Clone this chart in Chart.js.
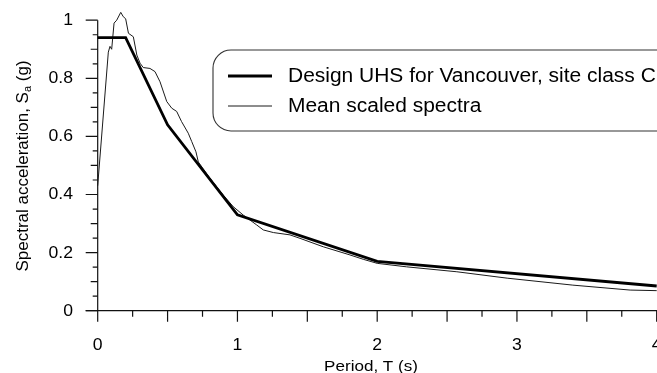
<!DOCTYPE html>
<html>
<head>
<meta charset="utf-8">
<script src="https://cdn.jsdelivr.net/npm/chart.js@4.4.0/dist/chart.umd.min.js"></script>
<style>
  html, body { margin: 0; padding: 0; background: #fff; }
</style>
</head>
<body>
<canvas id="chartContainer" width="657" height="373"></canvas>
<script>
// Design UHS, Vancouver site class C: period (s) / Sa (g)
let uhsPeriods = [0, 0.2, 0.5, 1.0, 2.0, 4.0];
let uhsValues = [0.94, 0.94, 0.64, 0.33, 0.17, 0.085];

// mean of the scaled record spectra
let meanPeriods = [0, 0.076, 0.088, 0.1, 0.117, 0.136, 0.165, 0.183, 0.2, 0.22,
  0.255, 0.28, 0.303, 0.326, 0.374, 0.41, 0.446, 0.494, 0.53, 0.565,
  0.6, 0.648, 0.673, 0.703, 0.72, 0.8, 0.9, 0.97, 1.042, 1.138,
  1.185, 1.257, 1.376, 1.448, 1.614, 1.805, 1.9, 2.0, 2.21, 2.57,
  2.93, 3.4, 3.81, 4.0];
let meanValues = [0.43, 0.89, 0.91, 0.9, 0.99, 1.0, 1.027, 1.012, 1.005, 0.955,
  0.943, 0.88, 0.852, 0.837, 0.834, 0.823, 0.788, 0.72, 0.697, 0.686,
  0.651, 0.611, 0.582, 0.547, 0.512, 0.458, 0.397, 0.358, 0.329, 0.295,
  0.278, 0.269, 0.261, 0.249, 0.22, 0.192, 0.177, 0.163, 0.151, 0.134,
  0.112, 0.088, 0.071, 0.069];

let xTickValues = [0, 1, 2, 3, 4];
let xTickLabels = ['0', '1', '2', '3', '4'];
let yTickValues = [0, 0.2, 0.4, 0.6, 0.8, 1];
let yTickLabels = ['0', '0.2', '0.4', '0.6', '0.8', '1'];

let seriesLabels = ['Design UHS for Vancouver, site class C', 'Mean scaled spectra'];

function toPoints(xs, ys) {
  let pts = [];
  for (let i = 0; i < xs.length; i++) {
    pts.push({ x: xs[i], y: ys[i] });
  }
  return pts;
}

const FONT = '"Liberation Sans", Arial, Helvetica, sans-serif';

// draws text squeezed/stretched horizontally
function wideText(ctx, text, x, y, sx, align) {
  let w = ctx.measureText(text).width * sx;
  let left = x;
  if (align === 'center') left = x - w / 2;
  if (align === 'right') left = x - w;
  ctx.save();
  ctx.translate(left, y);
  ctx.scale(sx, 1);
  ctx.textAlign = 'left';
  ctx.fillText(text, 0, 0);
  ctx.restore();
}

// axes, ticks and titles
const axesPlugin = {
  id: 'axesPlugin',
  beforeDatasetsDraw(chart) {
    let ctx = chart.ctx;
    let xs = chart.scales.x;
    let ys = chart.scales.y;
    let x0 = xs.getPixelForValue(0);
    let y0 = ys.getPixelForValue(0);

    ctx.save();
    ctx.strokeStyle = '#111';
    ctx.lineWidth = 1.2;

    // axis lines
    ctx.beginPath();
    ctx.moveTo(x0, ys.getPixelForValue(1));
    ctx.lineTo(x0, y0);
    ctx.moveTo(x0 - 12, y0);
    ctx.lineTo(xs.getPixelForValue(4) + 1, y0);
    ctx.stroke();

    // y ticks every 0.05
    ctx.beginPath();
    for (let i = 0; i <= 20; i++) {
      let py = ys.getPixelForValue(i * 0.05);
      let len = i % 4 === 0 ? 12 : (i % 2 === 0 ? 7 : 5);
      ctx.moveTo(x0 - len, py);
      ctx.lineTo(x0, py);
    }
    // x ticks every 0.25
    for (let i = 0; i <= 16; i++) {
      let px = xs.getPixelForValue(i * 0.25);
      let len = i % 2 === 0 ? 11 : 6;
      ctx.moveTo(px, y0);
      ctx.lineTo(px, y0 + len);
    }
    ctx.stroke();

    // tick labels
    ctx.fillStyle = '#000';
    ctx.font = '16px ' + FONT;
    ctx.textBaseline = 'middle';
    yTickValues.forEach((v, i) => {
      wideText(ctx, yTickLabels[i], 73, ys.getPixelForValue(v) + 0.5, 1.1, 'right');
    });
    xTickValues.forEach((v, i) => {
      wideText(ctx, xTickLabels[i], xs.getPixelForValue(v), 346, 1.1, 'center');
    });

    // x title
    ctx.font = '15.5px ' + FONT;
    wideText(ctx, 'Period, T (s)', 371, 367, 1.1, 'center');

    // y title with subscript
    ctx.translate(23, 166);
    ctx.rotate(-Math.PI / 2);
    ctx.font = '17px ' + FONT;
    let main = 'Spectral acceleration, S';
    let tail = ' (g)';
    let wMain = ctx.measureText(main).width;
    let wTail = ctx.measureText(tail).width;
    ctx.font = '11px ' + FONT;
    let wSub = ctx.measureText('a').width;
    let start = -(wMain + wSub + wTail) / 2;
    ctx.textAlign = 'left';
    ctx.font = '17px ' + FONT;
    ctx.fillText(main, start, 0);
    ctx.fillText(tail, start + wMain + wSub, 0);
    ctx.font = '11px ' + FONT;
    ctx.fillText('a', start + wMain, 5);
    ctx.restore();
  }
};

// rounded legend box in the upper right
const legendPlugin = {
  id: 'legendPlugin',
  afterDatasetsDraw(chart) {
    let ctx = chart.ctx;
    let left = 213, top = 50, right = 690, bottom = 131, r = 18;
    ctx.save();
    ctx.fillStyle = '#fff';
    ctx.strokeStyle = '#333';
    ctx.lineWidth = 1.1;
    ctx.beginPath();
    ctx.moveTo(left + r, top);
    ctx.lineTo(right, top);
    ctx.lineTo(right, bottom);
    ctx.lineTo(left + r, bottom);
    ctx.arcTo(left, bottom, left, bottom - r, r);
    ctx.lineTo(left, top + r);
    ctx.arcTo(left, top, left + r, top, r);
    ctx.closePath();
    ctx.fill();
    ctx.stroke();

    let rows = [76, 106];
    chart.data.datasets.forEach((ds, i) => {
      ctx.strokeStyle = ds.borderColor;
      ctx.lineWidth = ds.borderWidth;
      ctx.beginPath();
      ctx.moveTo(228, rows[i]);
      ctx.lineTo(272, rows[i]);
      ctx.stroke();
      ctx.fillStyle = '#000';
      ctx.font = '19.5px ' + FONT;
      ctx.textBaseline = 'middle';
      wideText(ctx, ds.label, 288, rows[i] + 1, 1.075, 'left');
    });
    ctx.restore();
  }
};

let chart = new Chart(document.getElementById('chartContainer'), {
  type: 'line',
  data: {
    datasets: [
      {
        label: seriesLabels[0],
        data: toPoints(uhsPeriods, uhsValues),
        borderColor: '#000',
        borderWidth: 2.8,
        pointRadius: 0,
        tension: 0,
        clip: false
      },
      {
        label: seriesLabels[1],
        data: toPoints(meanPeriods, meanValues),
        borderColor: '#1a1a1a',
        borderWidth: 1,
        pointRadius: 0,
        tension: 0,
        clip: false
      }
    ]
  },
  options: {
    responsive: false,
    devicePixelRatio: 1,
    animation: false,
    layout: { padding: { left: 97.7, right: 0.3, top: 20.2, bottom: 62.3 } },
    scales: {
      x: { type: 'linear', min: 0, max: 4, display: false },
      y: { min: 0, max: 1, display: false }
    },
    plugins: {
      legend: { display: false },
      tooltip: { enabled: false }
    }
  },
  plugins: [axesPlugin, legendPlugin]
});
</script>
</body>
</html>
